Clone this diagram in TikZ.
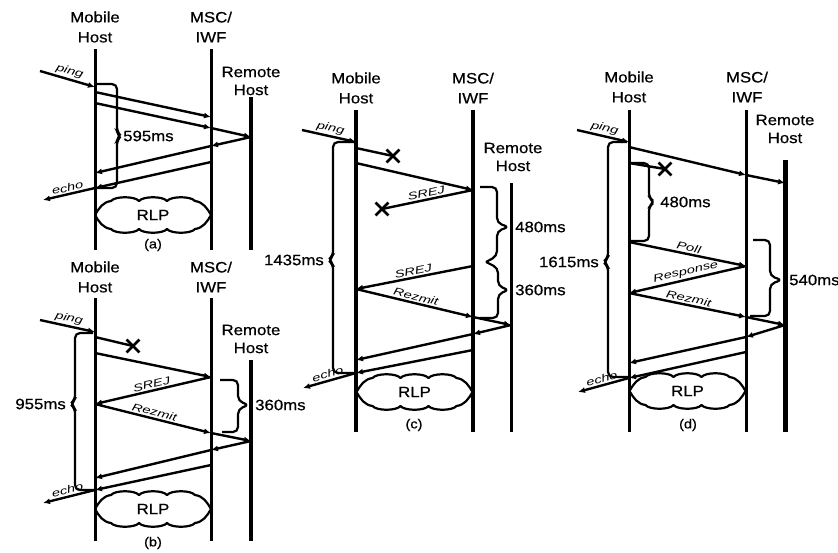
\documentclass[tikz,border=0pt]{standalone}
\usepackage{fontspec}
\setmainfont{Liberation Sans}
\newfontfamily\hdrfont[FakeStretch=1.12, FakeBold=0.6]{Liberation Sans}
\newfontfamily\lblfont[FakeStretch=1.4]{Liberation Sans}
\usetikzlibrary{arrows.meta, shapes.misc}

\tikzset{
  life/.style={line width=3pt},
  lifeb/.style={line width=4.5pt},
  msg/.style={line width=2.4pt, -{Latex[length=7pt,width=6pt]}},
  lostln/.style={line width=2.4pt},
  brk/.style={line width=2.2pt, rounded corners=5pt},
  hdr/.style={font=\hdrfont\fontsize{15}{20}\selectfont, align=center, inner sep=0pt},
  rhdr/.style={font=\hdrfont\fontsize{15}{18}\selectfont, align=center, inner sep=0pt},
  tm/.style={font=\hdrfont\fontsize{15}{16}\selectfont, inner sep=1pt},
  lbl/.style={font=\lblfont\itshape\fontsize{10.5}{11}\selectfont, sloped, above, inner sep=1.5pt},
  subcap/.style={font=\hdrfont\fontsize{13}{14}\selectfont},
  lost/.style={cross out, draw, line width=2.8pt, minimum size=10pt, inner sep=0pt},
  rlp/.pic={
    \draw[line width=2.2pt, line join=round]
      (-58,0) .. controls (-54,-7) and (-50,-13) .. (-42,-14)
      .. controls (-38,-19) and (-18,-19) .. (-14,-14)
      .. controls (-10,-19) and (10,-19) .. (14,-14)
      .. controls (18,-19) and (38,-19) .. (42,-14)
      .. controls (50,-13) and (54,-7) .. (58,0)
      .. controls (54,7) and (50,13) .. (42,14)
      .. controls (38,19) and (18,19) .. (14,14)
      .. controls (10,19) and (-10,19) .. (-14,14)
      .. controls (-18,19) and (-38,19) .. (-42,14)
      .. controls (-50,13) and (-54,7) .. (-58,0) -- cycle;
    \node[hdr] (-txt) {RLP};
  }
}

\begin{document}
\begin{tikzpicture}[x=1pt, y=-1pt]
\useasboundingbox (0,0) rectangle (838,552);

% (a) no loss
\node[hdr] (a-mh) at (95,27) {Mobile\\Host};
\node[hdr] (a-msc) at (211,27) {MSC/\\IWF};
\node[rhdr] (a-rh) at (251,81) {Remote\\Host};
\coordinate (a-m0) at (95,49);  \coordinate (a-m1) at (95,250);
\coordinate (a-s0) at (211,49); \coordinate (a-s1) at (211,250);
\coordinate (a-r0) at (251,97); \coordinate (a-r1) at (251,250);
\draw[life] (a-m0) -- (a-m1);
\draw[life] (a-s0) -- (a-s1);
\draw[lifeb] (a-r0) -- (a-r1);
\coordinate (a-in) at (40,71);   \coordinate (a-1) at (95,87);
\coordinate (a-2) at (95,92);    \coordinate (a-3) at (211,117);
\coordinate (a-4) at (95,103);   \coordinate (a-5) at (211,128);
\coordinate (a-6) at (251,137);  \coordinate (a-7) at (211,146);
\coordinate (a-8) at (95,173);   \coordinate (a-9) at (211,162);
\coordinate (a-10) at (95,188);  \coordinate (a-out) at (43,200);
\draw[msg] (a-in) -- node[lbl] {ping} (a-1);
\draw[msg] (a-2) -- (a-3);
\draw[msg] (a-4) -- (a-5);
\draw[msg] (a-5) -- (a-6);
\draw[msg] (a-6) -- (a-7);
\draw[msg] (a-7) -- (a-8);
\draw[msg] (a-9) -- (a-10);
\draw[msg] (a-10) -- node[lbl] {echo} (a-out);
\draw[brk] (97,84) -- (117,84) -- (117,132) -- (121,136) -- (117,140) -- (117,188) -- (97,188);
\node[tm, anchor=west] (a-t) at (122,136) {595ms};
\pic (a-rlp) at (153,215) {rlp};
\node[subcap] (a-cap) at (153,245) {(a)};

% (b) one lost frame
\node[hdr] (b-mh) at (95,277) {Mobile\\Host};
\node[hdr] (b-msc) at (211,277) {MSC/\\IWF};
\node[rhdr] (b-rh) at (251,339) {Remote\\Host};
\coordinate (b-m0) at (95,298);  \coordinate (b-m1) at (95,541);
\coordinate (b-s0) at (211,298); \coordinate (b-s1) at (211,541);
\coordinate (b-r0) at (251,360); \coordinate (b-r1) at (251,541);
\draw[life] (b-m0) -- (b-m1);
\draw[life] (b-s0) -- (b-s1);
\draw[lifeb] (b-r0) -- (b-r1);
\coordinate (b-in) at (40,320);  \coordinate (b-1) at (95,332);
\coordinate (b-2) at (95,337);   \node[lost] (b-x) at (133,346) {};
\coordinate (b-3) at (95,353);   \coordinate (b-4) at (211,377);
\coordinate (b-5) at (95,404);   \coordinate (b-6) at (211,433);
\coordinate (b-7) at (251,441);  \coordinate (b-8) at (211,450);
\coordinate (b-9) at (95,478);   \coordinate (b-10) at (211,465);
\coordinate (b-11) at (95,490);  \coordinate (b-out) at (43,503);
\draw[msg] (b-in) -- node[lbl] {ping} (b-1);
\draw[lostln] (b-2) -- (b-x.center);
\draw[msg] (b-3) -- (b-4);
\draw[msg] (b-4) -- node[lbl] {SREJ} (b-5);
\draw[msg] (b-5) -- node[lbl] {Rezmit} (b-6);
\draw[msg] (b-6) -- (b-7);
\draw[msg] (b-7) -- (b-8);
\draw[msg] (b-8) -- (b-9);
\draw[msg] (b-10) -- (b-11);
\draw[msg] (b-11) -- node[lbl] {echo} (b-out);
\draw[brk] (93,333) -- (75,333) -- (75,400) -- (70,404) -- (75,408) -- (75,490) -- (95,490);
\node[tm, anchor=east] (b-t1) at (67,404) {955ms};
\draw[brk] (220,380) -- (238,380) -- (238,401) -- (249,405) -- (238,409) -- (238,432) -- (222,432);
\node[tm, anchor=west] (b-t2) at (254,405) {360ms};
\pic (b-rlp) at (153,509) {rlp};
\node[subcap] (b-cap) at (153,543) {(b)};

% (c) lost frame and lost SREJ
\node[hdr] (c-mh) at (356,88) {Mobile\\Host};
\node[hdr] (c-msc) at (473,88) {MSC/\\IWF};
\node[rhdr] (c-rh) at (513,157) {Remote\\Host};
\coordinate (c-m0) at (356,110); \coordinate (c-m1) at (356,432);
\coordinate (c-s0) at (473,110); \coordinate (c-s1) at (473,432);
\coordinate (c-r0) at (511,183); \coordinate (c-r1) at (511,432);
\draw[lifeb] (c-m0) -- (c-m1);
\draw[lifeb] (c-s0) -- (c-s1);
\draw[life] (c-r0) -- (c-r1);
\coordinate (c-in) at (302,130); \coordinate (c-1) at (356,142);
\coordinate (c-2) at (356,148);  \node[lost] (c-x1) at (393,156) {};
\coordinate (c-3) at (356,163);  \coordinate (c-4) at (473,190);
\node[lost] (c-x2) at (382,209) {};
\coordinate (c-5) at (473,266);  \coordinate (c-6) at (356,289);
\coordinate (c-7) at (473,317);  \coordinate (c-8) at (511,325);
\coordinate (c-9) at (473,334);  \coordinate (c-10) at (356,360);
\coordinate (c-11) at (473,350); \coordinate (c-12) at (356,373);
\coordinate (c-out) at (303,388);
\draw[msg] (c-in) -- node[lbl] {ping} (c-1);
\draw[lostln] (c-2) -- (c-x1.center);
\draw[msg] (c-3) -- (c-4);
\draw[lostln] (c-4) -- node[lbl] {SREJ} (c-x2.center);
\draw[msg] (c-5) -- node[lbl] {SREJ} (c-6);
\draw[msg] (c-6) -- node[lbl] {Rezmit} (c-7);
\draw[msg] (c-7) -- (c-8);
\draw[msg] (c-8) -- (c-9);
\draw[msg] (c-9) -- (c-10);
\draw[msg] (c-11) -- (c-12);
\draw[msg] (c-12) -- node[lbl] {echo} (c-out);
\draw[brk] (354,142) -- (333,142) -- (333,256) -- (328,260) -- (333,264) -- (333,373) -- (356,373);
\node[tm, anchor=east] (c-t1) at (325,260) {1435ms};
\draw[brk] (480,187) -- (497,187) -- (497,223) -- (509,227) -- (497,231) -- (497,256) -- (486,262);
\node[tm, anchor=west] (c-t2) at (514,227) {480ms};
\draw[brk] (486,262) -- (498,268) -- (498,286) -- (509,290) -- (498,294) -- (498,318) -- (480,318);
\node[tm, anchor=west] (c-t3) at (514,290) {360ms};
\pic (c-rlp) at (414.5,392) {rlp};
\node[subcap] (c-cap) at (414,425) {(c)};

% (d) lost frame, poll / response
\node[hdr] (d-mh) at (629,87) {Mobile\\Host};
\node[hdr] (d-msc) at (747,87) {MSC/\\IWF};
\node[rhdr] (d-rh) at (785,129) {Remote\\Host};
\coordinate (d-m0) at (629,110); \coordinate (d-m1) at (629,432);
\coordinate (d-s0) at (746,110); \coordinate (d-s1) at (746,432);
\coordinate (d-r0) at (785,160); \coordinate (d-r1) at (785,432);
\draw[life] (d-m0) -- (d-m1);
\draw[life] (d-s0) -- (d-s1);
\draw[line width=5pt] (d-r0) -- (d-r1);
\coordinate (d-in) at (577,130); \coordinate (d-1) at (629,142);
\coordinate (d-2) at (629,147);  \coordinate (d-3) at (746,175);
\coordinate (d-4) at (785,183);
\coordinate (d-5) at (629,163);  \node[lost] (d-x) at (665,169) {};
\coordinate (d-6) at (629,242);  \coordinate (d-7) at (746,266);
\coordinate (d-8) at (629,293);  \coordinate (d-9) at (746,317);
\coordinate (d-10) at (785,325); \coordinate (d-11) at (746,337);
\coordinate (d-12) at (629,363); \coordinate (d-13) at (746,352);
\coordinate (d-14) at (629,378); \coordinate (d-out) at (578,392);
\draw[msg] (d-in) -- node[lbl] {ping} (d-1);
\draw[msg] (d-2) -- (d-3);
\draw[msg] (d-3) -- (d-4);
\draw[lostln] (d-5) -- (d-x.center);
\draw[msg] (d-6) -- node[lbl] {Poll} (d-7);
\draw[msg] (d-7) -- node[lbl] {Response} (d-8);
\draw[msg] (d-8) -- node[lbl] {Rezmit} (d-9);
\draw[msg] (d-9) -- (d-10);
\draw[msg] (d-10) -- (d-11);
\draw[msg] (d-11) -- (d-12);
\draw[msg] (d-13) -- (d-14);
\draw[msg] (d-14) -- node[lbl] {echo} (d-out);
\draw[brk] (631,163) -- (649,163) -- (649,198) -- (655,202) -- (649,206) -- (649,241) -- (631,241);
\node[tm, anchor=west] (d-t1) at (659,202) {480ms};
\draw[brk] (627,142) -- (608,142) -- (608,258) -- (603,262) -- (608,266) -- (608,377) -- (629,377);
\node[tm, anchor=east] (d-t2) at (600,262) {1615ms};
\draw[brk] (753,240) -- (770,240) -- (770,276) -- (782,280) -- (770,284) -- (770,316) -- (750,316);
\node[tm, anchor=west] (d-t3) at (788,280) {540ms};
\pic (d-rlp) at (687.5,391) {rlp};
\node[subcap] (d-cap) at (688,425) {(d)};
\end{tikzpicture}
\end{document}
